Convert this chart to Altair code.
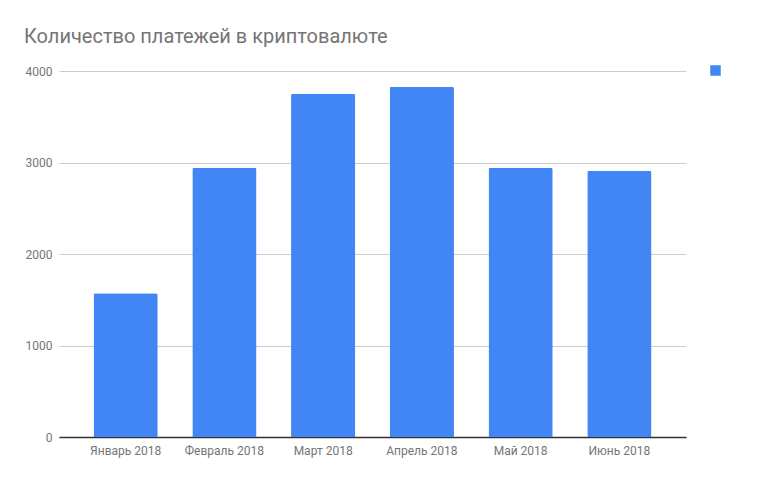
import altair as alt
import pandas as pd

months = ["Январь 2018", "Февраль 2018", "Март 2018", "Апрель 2018", "Май 2018", "Июнь 2018"]
payments = [1572, 2942, 3752, 3828, 2942, 2910]
series = [" "] * len(months)

df = pd.DataFrame({"month": months, "count": payments, "series": series})

chart = alt.Chart(df).mark_bar(
    color="#4285F4", cornerRadiusTopLeft=2, cornerRadiusTopRight=2
).encode(
    x=alt.X("month:N", sort=months, title=None,
            scale=alt.Scale(paddingInner=0.35, paddingOuter=0.35),
            axis=alt.Axis(labelAngle=0, ticks=False, domainColor="#333333", domainWidth=1.5,
                          labelColor="#757575", labelFontSize=12, labelFont="Roboto",
                          labelPadding=8, grid=False)),
    y=alt.Y("count:Q", title=None,
            scale=alt.Scale(domain=[0, 4000], nice=False),
            axis=alt.Axis(values=[0, 1000, 2000, 3000, 4000], format="d", ticks=False, domain=False,
                          gridColor="#cccccc", labelColor="#757575", labelFontSize=12,
                          labelFont="Roboto", labelPadding=7)),
    color=alt.Color("series:N", scale=alt.Scale(range=["#4285F4"]),
                    legend=alt.Legend(title=None, orient="none", legendX=651, legendY=-6,
                                      symbolType="square", symbolSize=110,
                                      symbolStrokeWidth=0, labelFontSize=1)),
).properties(
    width=627,
    height=366,
    autosize=alt.AutoSizeParams(type="none"),
    padding={"left": 51, "top": 63, "right": 87, "bottom": 38},
    title=alt.TitleParams("Количество платежей в криптовалюте", anchor="start", frame="group",
                          dx=-35, offset=18, fontSize=20, font="Roboto", fontWeight="normal",
                          color="#757575"),
).configure_view(stroke=None)

chart.save("out.html", embed_options={"renderer": "svg", "actions": False})
